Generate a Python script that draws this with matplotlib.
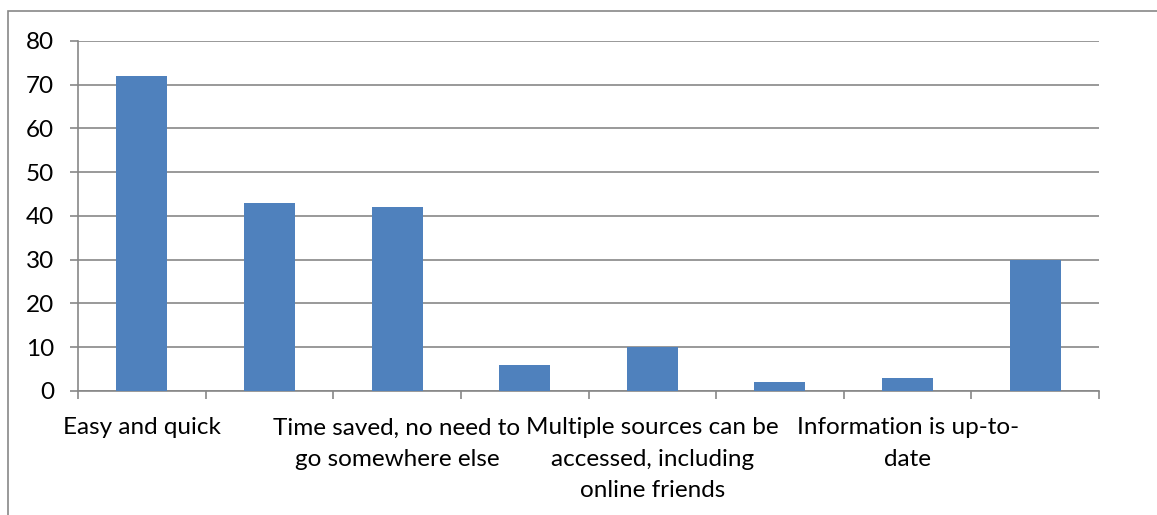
import matplotlib.pyplot as plt
import numpy as np
from matplotlib.patches import Rectangle

# survey answers, only every second category gets a label on the axis
labels = ["Easy and quick",
          "Time saved, no need to\ngo somewhere else",
          "Multiple sources can be\naccessed, including\nonline friends",
          "Information is up-to-\ndate"]
values = [72, 43, 42, 6, 10, 2, 3, 30]
yticks = [0, 10, 20, 30, 40, 50, 60, 70, 80]

plt.rcParams['font.family'] = ['Lato', 'DejaVu Sans']

fig = plt.figure(figsize=(11.57, 5.15), dpi=100)
ax = fig.add_axes([0.0674, 0.2408, 0.8825, 0.6796])

x = np.arange(len(values))
ax.bar(x, values, width=0.4, color='#4F81BD', zorder=3)

ax.set_xlim(-0.5, len(values) - 0.5)
ax.set_ylim(0, 80)
ax.set_yticks(yticks)
ax.grid(axis='y', color='#878787', linewidth=1.2, zorder=0)

# tick marks on category boundaries, labels on every other category
ax.set_xticks(np.arange(len(values) + 1) - 0.5)
ax.set_xticklabels([])
ax.set_xticks(x[::2], labels, minor=True)
for t in ax.get_xticklabels(minor=True):
    t.set_linespacing(1.6)
ax.tick_params(axis='x', which='major', length=6, width=1.2, color='#878787')
ax.tick_params(axis='x', which='minor', length=0, pad=19, labelsize=17.5)
ax.tick_params(axis='y', length=6, width=1.2, color='#878787', pad=11, labelsize=17.5)

for s in ['top', 'right']:
    ax.spines[s].set_visible(False)
for s in ['left', 'bottom']:
    ax.spines[s].set_color('#878787')
    ax.spines[s].set_linewidth(1.2)

# chart frame
fig.add_artist(Rectangle((8 / 1157, -0.1), 1.1, 1.1 - 11 / 515,
                         transform=fig.transFigure, fill=False,
                         edgecolor='#878787', linewidth=1.2))

fig.savefig('out.png', dpi=100)
